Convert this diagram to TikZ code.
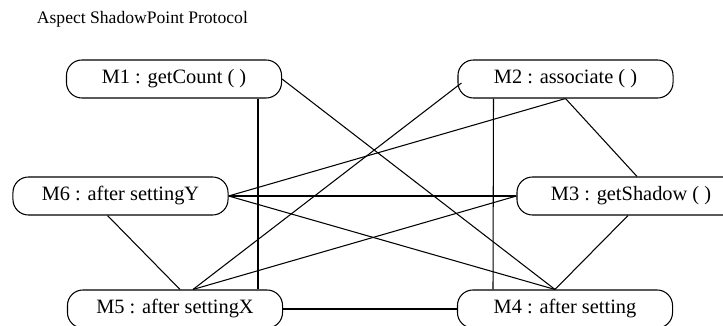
\documentclass[tikz,border=0pt]{standalone}
\usepackage{fontspec}
\setmainfont{Liberation Serif}
\usetikzlibrary{calc}
\tikzset{method/.style={draw, line width=0.75pt, rounded corners=11pt, minimum width=5.375cm, minimum height=0.95cm, inner sep=0pt, font=\fontsize{14.5}{16}\selectfont}}
\tikzset{link/.style={line width=0.75pt}}

\begin{document}
\begin{tikzpicture}[x=0.025cm, y=-0.025cm]
            \clip (0,0) rectangle (723,326);
            \node[anchor=west, font=\fontsize{12.5}{14}\selectfont] (title) at (32,19) {Aspect ShadowPoint Protocol};
            \node[method] (m1) at (174,79) {M1 : getCount ( )};
            \node[method] (m2) at (565.5,79) {M2 : associate ( )};
            \node[method] (m6) at (120.5,196) {M6 : after settingY};
            \node[method, minimum width=5.7cm] (m3) at (631,196) {M3 : getShadow ( )};
            \node[method] (m5) at (175,309) {M5 : after settingX};
            \node[method] (m4) at (565,309) {M4 : after setting};
            % meeting points on the top edges
            \coordinate (m4top) at ($(m4.north)+(-10,0)$);
            \coordinate (m5top) at ($(m5.north)+(18,0)$);
            \draw[link] (m1.east) -- (m4top);
            \draw[link] ($(m1.south)+(84,0)$) -- ($(m5.north)+(83,0)$);
            \draw[link] ($(m2.south)+(-72,0)$) -- ($(m4.north)+(-72,0)$);
            \draw[link] ($(m2.west)+(4,4)$) -- (m5top);
            \draw[link] (m2.south) -- (m6.east);
            \draw[link] (m2.south) -- ($(m3.north)+(6,0)$);
            \draw[link] (m6.east) -- (m3.west);
            \draw[link] (m6.east) -- (m4top);
            \draw[link] ($(m6.south)+(-13,0)$) -- ($(m5.north)+(5,0)$);
            \draw[link] (m3.west) -- (m5top);
            \draw[link] ($(m3.south)+(-3,0)$) -- (m4top);
            \draw[link] (m5.east) -- (m4.west);
        \end{tikzpicture}
\end{document}
